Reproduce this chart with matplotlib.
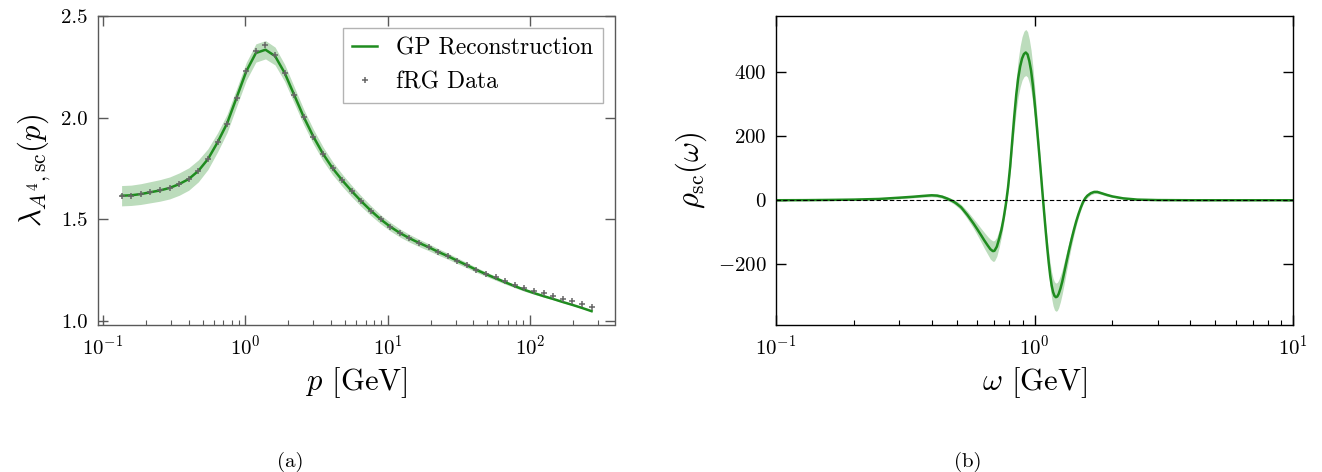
import numpy as np
import matplotlib
matplotlib.use("Agg")
import matplotlib.pyplot as plt
from matplotlib.ticker import LogLocator, NullFormatter

plt.rcParams['font.family'] = 'serif'
plt.rcParams['font.serif'] = ['cmr10', 'DejaVu Serif']
plt.rcParams['mathtext.fontset'] = 'cm'
plt.rcParams['axes.unicode_minus'] = False
plt.rcParams['axes.formatter.use_mathtext'] = True

# ---------------- panel (a) data ----------------
p_min, p_max, n_p = 0.135, 271.0, 50
p_data = np.geomspace(p_min, p_max, n_p)
frg_data = [1.616, 1.617, 1.624, 1.634, 1.642, 1.653, 1.674, 1.697, 1.739, 1.795,
            1.878, 1.971, 2.099, 2.231, 2.329, 2.355, 2.309, 2.220, 2.111, 2.002,
            1.906, 1.822, 1.751, 1.692, 1.638, 1.588, 1.542, 1.500, 1.464, 1.433,
            1.407, 1.384, 1.363, 1.340, 1.319, 1.296, 1.274, 1.253, 1.233, 1.214,
            1.196, 1.179, 1.163, 1.149, 1.136, 1.123, 1.110, 1.097, 1.084, 1.070]
gp_mean = [1.616, 1.618, 1.624, 1.633, 1.642, 1.654, 1.673, 1.698, 1.738, 1.796,
           1.878, 1.972, 2.100, 2.228, 2.318, 2.334, 2.303, 2.220, 2.111, 2.002,
           1.906, 1.822, 1.751, 1.692, 1.638, 1.588, 1.542, 1.500, 1.464, 1.433,
           1.407, 1.384, 1.363, 1.340, 1.319, 1.296, 1.274, 1.251, 1.230, 1.210,
           1.190, 1.171, 1.153, 1.137, 1.122, 1.108, 1.093, 1.079, 1.064, 1.048]
gp_err = [0.050, 0.050, 0.051, 0.052, 0.053, 0.054, 0.055, 0.055, 0.054, 0.051,
          0.047, 0.045, 0.044, 0.044, 0.045, 0.045, 0.044, 0.042, 0.040, 0.038,
          0.036, 0.034, 0.032, 0.030, 0.028, 0.026, 0.024, 0.022, 0.021, 0.020,
          0.019, 0.018, 0.017, 0.016, 0.015, 0.014, 0.013, 0.012, 0.011, 0.010,
          0.009, 0.008, 0.007, 0.006, 0.005, 0.004, 0.003, 0.003, 0.002, 0.002]

# ---------------- panel (b) data ----------------
omega = [0.10, 0.13, 0.16, 0.20, 0.25, 0.30, 0.34, 0.37, 0.40, 0.42,
         0.44, 0.46, 0.475, 0.49, 0.50, 0.52, 0.55, 0.58, 0.60, 0.62,
         0.64, 0.66, 0.675, 0.69, 0.70, 0.715, 0.73, 0.745, 0.76, 0.775,
         0.79, 0.805, 0.82, 0.835, 0.85, 0.865, 0.88, 0.895, 0.91, 0.925,
         0.94, 0.955, 0.97, 0.985, 1.00, 1.015, 1.03, 1.045, 1.06, 1.075,
         1.09, 1.105, 1.12, 1.135, 1.15, 1.165, 1.18, 1.195, 1.21, 1.225,
         1.24, 1.26, 1.28, 1.30, 1.33, 1.36, 1.39, 1.42, 1.45, 1.48,
         1.51, 1.54, 1.57, 1.60, 1.65, 1.70, 1.75, 1.80, 1.90, 2.0,
         2.2, 2.5, 3.0, 4.0, 6.0, 10.0]
rho = [0, 0.3, 1, 2, 4, 8, 11, 13.5, 15.5, 14.5,
       11, 5, 0, -6, -11, -22, -46, -72, -90, -108,
       -126, -142, -153, -159, -158, -145, -120, -92, -55, -12,
       40, 105, 185, 262, 330, 382, 418, 443, 457, 462,
       456, 435, 405, 362, 310, 253, 195, 137, 78, 18,
       -40, -96, -148, -195, -235, -266, -287, -299, -303, -301,
       -293, -276, -255, -230, -192, -156, -123, -93, -66, -43,
       -23, -6, 6, 14, 22, 26, 26, 23, 17, 12,
       6, 2, 0.5, 0, 0, 0]
rho_err = [1, 1, 1, 1.5, 2, 3, 3.5, 4, 4.5, 5,
           5, 6, 6, 7, 8, 9, 12, 15, 18, 21,
           25, 28, 31, 32, 32, 30, 27, 22, 17, 13,
           14, 20, 30, 40, 50, 58, 64, 68, 71, 72,
           71, 68, 64, 58, 51, 43, 35, 27, 20, 14,
           14, 20, 27, 33, 38, 41, 43, 44, 44, 44,
           43, 41, 38, 35, 30, 25, 20, 16, 13, 10,
           8, 7, 6, 6, 5, 5, 5, 4, 4, 3,
           2, 1.5, 1, 1, 1, 1]

line_color = '#1f8c1f'
band_color = '#bcdcbc'

fig = plt.figure(figsize=(13.22, 4.72), dpi=100)
axL = fig.add_axes([97.5 / 1322, 1 - 325 / 472, 517 / 1322, 309 / 472])
axR = fig.add_axes([776 / 1322, 1 - 325 / 472, 517 / 1322, 309 / 472])

# ---- left panel ----
gm = np.array(gp_mean); ge = np.array(gp_err)
axL.fill_between(p_data, gm - ge, gm + ge, color=band_color, lw=0, zorder=1)
axL.plot(p_data, gm, color=line_color, lw=1.8, zorder=2, label='GP Reconstruction')
axL.plot(p_data, frg_data, ls='none', marker='+', ms=5, mew=1.1, color='0.4',
         zorder=3, label='fRG Data')
axL.set_xscale('log')
axL.set_xlim(10 ** -1.039, 10 ** 2.594)
axL.set_ylim(0.98, 2.5)
axL.set_yticks([1.0, 1.5, 2.0, 2.5])
axL.set_yticklabels(['1.0', '1.5', '2.0', '2.5'])
axL.set_xlabel(r'$p$ [GeV]', fontsize=22, labelpad=4)
axL.set_ylabel(r'$\lambda_{A^4,\mathrm{sc}}(p)$', fontsize=22, labelpad=6)
leg = axL.legend(loc='upper right', fontsize=17, fancybox=False, framealpha=1,
                 edgecolor='0.7', handlelength=1.05, numpoints=1, borderpad=0.4,
                 markerscale=0.8)
leg.get_frame().set_linewidth(1.0)
for s in axL.spines.values():
    s.set_color('0.35')
    s.set_linewidth(1.0)

# ---- right panel ----
r = np.array(rho); re = np.array(rho_err)
axR.fill_between(omega, r - re, r + re, color=band_color, lw=0, zorder=1)
axR.plot(omega, r, color=line_color, lw=1.8, zorder=2)
axR.axhline(0, color='k', ls='--', lw=0.8, dashes=(4, 2), zorder=3)
axR.set_xscale('log')
axR.set_xlim(0.1, 10)
axR.set_ylim(-390, 576)
axR.set_yticks([-200, 0, 200, 400])
axR.set_xlabel(r'$\omega$ [GeV]', fontsize=22, labelpad=4)
axR.set_ylabel(r'$\rho_{\mathrm{sc}}(\omega)$', fontsize=22, labelpad=6)
for s in axR.spines.values():
    s.set_color('k')
    s.set_linewidth(1.0)

for ax, c in ((axL, '0.35'), (axR, 'k')):
    ax.xaxis.set_minor_locator(LogLocator(base=10, subs=np.arange(2, 10), numticks=20))
    ax.xaxis.set_minor_formatter(NullFormatter())
    ax.tick_params(which='major', direction='in', length=7, width=1.0, top=True,
                   right=True, labelsize=15, pad=7, color=c)
    ax.tick_params(which='minor', direction='in', length=3.5, width=0.8, top=False,
                   right=False, color=c)
    ax.tick_params(axis='y', which='minor', left=False, right=False)

fig.text(290 / 1322, 1 - 462 / 472, '(a)', ha='center', va='center', fontsize=15)
fig.text(968 / 1322, 1 - 462 / 472, '(b)', ha='center', va='center', fontsize=15)

fig.savefig('out.png', dpi=100)
